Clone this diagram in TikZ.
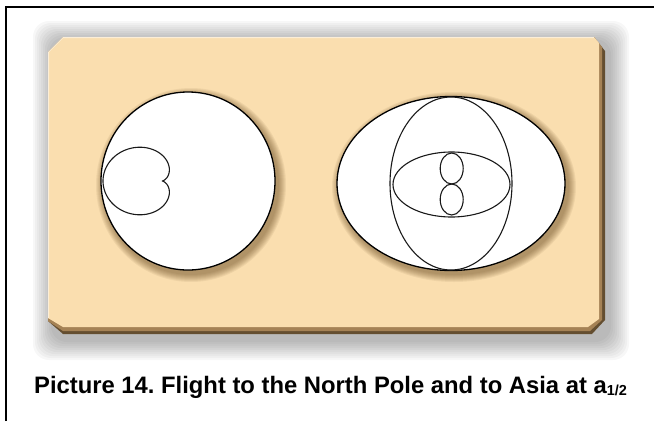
\documentclass[tikz,border=0pt]{standalone}
\usepackage{fontspec}
\setmainfont{Liberation Sans}
\definecolor{panelbeige}{RGB}{250,222,175}
\definecolor{paneledge}{RGB}{100,78,48}
\definecolor{panelmid}{RGB}{165,130,85}
\definecolor{shadowbrown}{RGB}{90,60,20}
\tikzset{
  frameline/.style={line width=2pt, black},
  curve/.style={line width=1.1pt, black!90},
  hole/.style={fill=white, draw=black, line width=1.3pt},
}
\begin{document}
\begin{tikzpicture}[x=1pt,y=-1pt]
\useasboundingbox (0,0) rectangle (654,421);
% frame
\coordinate (ftl) at (6,7);
\coordinate (fbl) at (6,421);
\coordinate (ftr) at (654,7);
\draw[frameline] (fbl) -- (ftl) -- (ftr);
% soft grey glow of panel
\foreach \d in {2,4,...,20}{
  \fill[black, opacity=0.03, rounded corners=16pt] (48-\d+5,37-\d+4) rectangle (605+\d+4,334+\d+6);
}
% panel with bevel
\fill[paneledge] (48,52) -- (63,37) -- (594,37) -- (605,51) -- (605,320) -- (592,334) -- (63,334) -- (48,321) -- cycle;
\fill[panelmid] (48,52) -- (63,37) -- (594,37) -- (602,47) -- (602,320) -- (590,331) -- (63,331) -- (48,321) -- cycle;
\fill[panelbeige] (48,52) -- (63,37) -- (594,37) -- (599,43) -- (599,319) -- (588,327) -- (63,327) -- (48,318) -- cycle;
\draw[white, opacity=0.5, line width=1pt] (48.5,318) -- (48.5,52) -- (63,37.5) -- (594,37.5);
% shadows of holes
\foreach \d in {1,2,...,8}{
  \fill[shadowbrown, opacity=0.07] (191,185) ellipse [x radius={87pt+\d pt}, y radius={89pt+\d pt}];
  \fill[shadowbrown, opacity=0.07] (454,187) ellipse [x radius={114pt+\d pt}, y radius={87pt+\d pt}];
}
% left hole
\node[draw=none, inner sep=0pt, minimum size=0pt] (lc) at (188,181) {};
\fill[hole] (lc) ellipse [x radius=87pt, y radius=89pt];
\draw[curve] plot[domain=0:360, samples=240, smooth] ({162+29.5*(1-cos(\x))*cos(\x)}, {181+26*(1-cos(\x))*sin(\x)});
% right hole
\node[draw=none, inner sep=0pt, minimum size=0pt] (rc) at (451,183.5) {};
\fill[hole] (rc) ellipse [x radius=114pt, y radius=87pt];
\draw[curve] (rc) ellipse [x radius=61pt, y radius=86.5pt];
\draw[curve] (451.5,184.5) ellipse [x radius=58.5pt, y radius=32.5pt];
\draw[curve] (451.7,168.5) ellipse [x radius=11.5pt, y radius=15.5pt];
\draw[curve] (451.7,199.5) ellipse [x radius=11.5pt, y radius=15.5pt];
% caption
\node[anchor=base west, inner sep=0pt] (cap) at (34,393)
  {\frenchspacing\fontsize{23.8}{28}\selectfont\bfseries Picture 14. Flight to the North Pole and to Asia at a\raisebox{-2.5pt}{\fontsize{14.5}{17}\selectfont 1/2}};
\end{tikzpicture}
\end{document}
